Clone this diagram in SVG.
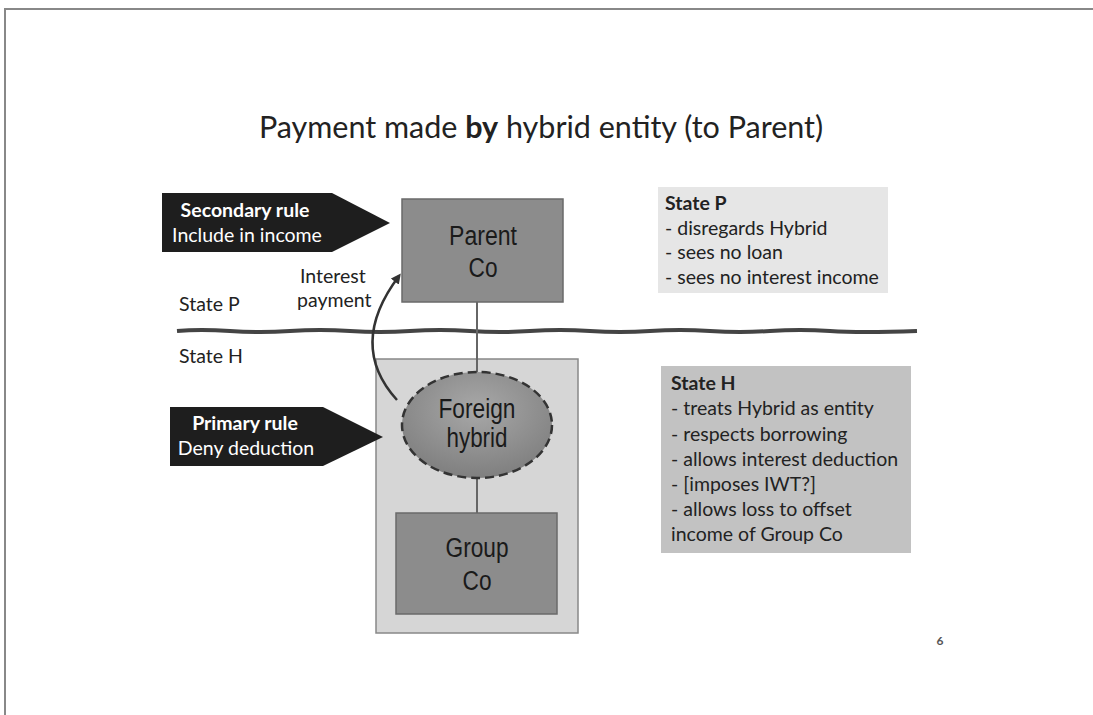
<svg xmlns="http://www.w3.org/2000/svg" width="1093" height="715" viewBox="0 0 1093 715">
<style>
.t{font-family:Lato,"Open Sans",sans-serif;fill:#222;font-size:19.5px}
.w{font-family:Lato,"Open Sans",sans-serif;fill:#fff;font-size:19.5px;text-anchor:middle}
.n{font-family:"Liberation Sans",Arial,sans-serif;font-size:27px;fill:#1a1a1a;text-anchor:middle}
.box{fill:#8c8c8c;stroke:#6a6a6a;stroke-width:1.5}
.conn{stroke:#666;stroke-width:2;fill:none}
</style>
<defs>
<radialGradient id="eg" cx="0.5" cy="0.35" r="0.7">
<stop offset="0" stop-color="#a8a8a8"/>
<stop offset="1" stop-color="#7c7c7c"/>
</radialGradient>
<marker id="ah" markerWidth="10" markerHeight="10" refX="7" refY="5" orient="auto" markerUnits="userSpaceOnUse">
<path d="M0,0 L10,5 L0,10 Z" fill="#333"/>
</marker>
</defs>
<rect width="1093" height="715" fill="#fff"/>
<path d="M5,715 L5,9 L1093,9" fill="none" stroke="#888" stroke-width="2"/>
<text x="541" y="138" font-family="Lato,'Open Sans',sans-serif" font-size="30.5" fill="#222" text-anchor="middle">Payment made <tspan font-weight="bold">by</tspan> hybrid entity (to Parent)</text>

<g id="state-h-container"><rect x="376" y="359" width="202" height="274" fill="#d6d6d6" stroke="#888" stroke-width="1.5"/></g>

<g id="divider">
<path d="M177,331 Q200,329 230,331 T290,331 T350,331 T410,331 T470,331 T530,331 T590,331 T650,331 T710,331 T770,331 T830,331 T917,331" fill="none" stroke="#444" stroke-width="4"/>
<text class="t" x="179" y="311" font-size="18.5">State P</text>
<text class="t" x="179" y="363" font-size="18.5">State H</text>
</g>

<g id="connectors">
<line class="conn" x1="477" y1="302" x2="477" y2="373"/>
<line class="conn" x1="477" y1="478" x2="477" y2="513"/>
<path d="M397,400 Q347,345 399,276" fill="none" stroke="#333" stroke-width="2.5" marker-end="url(#ah)"/>
<text class="t" x="300" y="283" font-size="18.5" fill="#444">Interest</text>
<text class="t" x="297" y="307" font-size="18.5" fill="#444">payment</text>
</g>

<g id="secondary-rule">
<path d="M162,193 L332,193 L390,223 L332,252 L162,252 Z" fill="#1e1e1e"/>
<text class="w" x="245" y="217" font-weight="bold">Secondary rule</text>
<text class="w" x="247" y="242">Include in income</text>
</g>

<g id="parent-co">
<rect class="box" x="402" y="199" width="161" height="103"/>
<text class="n" x="483" y="245" textLength="68" lengthAdjust="spacingAndGlyphs">Parent</text>
<text class="n" x="483" y="277" textLength="29" lengthAdjust="spacingAndGlyphs">Co</text>
</g>

<g id="state-p-note">
<rect x="658" y="187" width="230" height="106" fill="#e6e6e6"/>
<text class="t" x="665" y="210" font-weight="bold">State P</text>
<text class="t" x="665" y="234.5">- disregards Hybrid</text>
<text class="t" x="665" y="259">- sees no loan</text>
<text class="t" x="665" y="284">- sees no interest income</text>
</g>

<g id="foreign-hybrid">
<ellipse cx="477" cy="425" rx="75" ry="53" fill="url(#eg)" stroke="#333" stroke-width="2.5" stroke-dasharray="9,5"/>
<text class="n" x="477" y="418" textLength="77" lengthAdjust="spacingAndGlyphs">Foreign</text>
<text class="n" x="477" y="447" textLength="61" lengthAdjust="spacingAndGlyphs">hybrid</text>
</g>

<g id="primary-rule">
<path d="M170,407 L323,407 L383,437 L323,466 L170,466 Z" fill="#1e1e1e"/>
<text class="w" x="245" y="430" font-weight="bold">Primary rule</text>
<text class="w" x="246" y="455">Deny deduction</text>
</g>

<g id="group-co">
<rect class="box" x="396" y="513" width="161" height="101"/>
<text class="n" x="477" y="557" textLength="63" lengthAdjust="spacingAndGlyphs">Group</text>
<text class="n" x="477" y="590" textLength="29" lengthAdjust="spacingAndGlyphs">Co</text>
</g>

<g id="state-h-note">
<rect x="661" y="366" width="250" height="187" fill="#c2c2c2"/>
<text class="t" x="671" y="390" font-weight="bold">State H</text>
<text class="t" x="671" y="415">- treats Hybrid as entity</text>
<text class="t" x="671" y="441">- respects borrowing</text>
<text class="t" x="671" y="466">- allows interest deduction</text>
<text class="t" x="671" y="491">- [imposes IWT?]</text>
<text class="t" x="671" y="516">- allows loss to offset</text>
<text class="t" x="671" y="541">income of Group Co</text>
</g>

<text x="940" y="645" font-family="Lato,sans-serif" font-size="12" font-weight="bold" text-anchor="middle" fill="#555">6</text>
</svg>
